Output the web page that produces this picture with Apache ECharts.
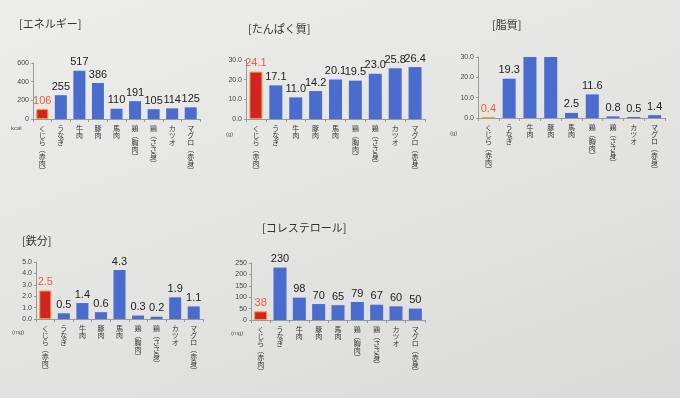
<!DOCTYPE html>
<html>
<head>
<meta charset="utf-8">
<script src="https://cdn.jsdelivr.net/npm/echarts@6/dist/echarts.min.js"></script>
<style>
  html, body { margin: 0; padding: 0; }
  body { background: linear-gradient(160deg, #ededeb 0%, #e4e4e2 50%, #dadad8 100%); }
  #main { width: 680px; height: 398px; }
</style>
</head>
<body>
<div id="main"></div>
<script>
// 食品100gあたりの成分比較
var categories = ['くじら（赤肉）', 'うなぎ', '牛肉', '豚肉', '馬肉', '鶏（胸肉）', '鶏（ささ身）', 'カツオ', 'マグロ（赤身）'];
var energy = [106, 255, 517, 386, 110, 191, 105, 114, 125];
var protein = [24.1, 17.1, 11.0, 14.2, 20.1, 19.5, 23.0, 25.8, 26.4];
// 牛肉・豚肉は目盛りの上限で切れている
var fat = [0.4, 19.3, 30, 30, 2.5, 11.6, 0.8, 0.5, 1.4];
var fatOverflow = [2, 3];
var iron = [2.5, 0.5, 1.4, 0.6, 4.3, 0.3, 0.2, 1.9, 1.1];
var cholesterol = [38, 230, 98, 70, 65, 79, 67, 60, 50];

var titles = ['[エネルギー]', '[たんぱく質]', '[脂質]', '[鉄分]', '[コレステロール]'];
var units = ['kcal', '(g)', '(g)', '(mg)', '(mg)'];

var BLUE = '#4a6ccd';
var RED = '#d42222';
var RED_LABEL = '#e2603e';
var FONT = 'Liberation Sans';
var JP = 'Noto Sans CJK JP';

// 縦書き用の文字列にする
function vertical(s) {
  return s.replace(/（/g, '︵').replace(/）/g, '︶').split('').join('\n');
}

var panels = [
  {data: energy, max: 600, interval: 200, dec: 0, grid: {left: 33, top: 63, width: 167, height: 56}, bw: 12,
   title: [14, 13], unit: [11, 125]},
  {data: protein, max: 30, interval: 10, dec: 1, grid: {left: 246, top: 60, width: 179, height: 59}, bw: 13,
   title: [243, 18], unit: [226, 131]},
  {data: fat, max: 30, interval: 10, dec: 1, grid: {left: 478, top: 57, width: 187, height: 61}, bw: 13,
   title: [487, 14], unit: [450, 130]},
  {data: iron, max: 5, interval: 1, dec: 1, grid: {left: 36, top: 262, width: 167, height: 57}, bw: 12,
   title: [17, 230], unit: [12, 329]},
  {data: cholesterol, max: 250, interval: 50, dec: 0, grid: {left: 251, top: 263, width: 174, height: 57}, bw: 13,
   title: [257, 217], unit: [231, 330]}
];

var grids = [], xAxes = [], yAxes = [], series = [], titleList = [], graphics = [];

panels.forEach(function(p, i) {
  grids.push(p.grid);
  xAxes.push({
    type: 'category', gridIndex: i, data: categories,
    axisLine: {lineStyle: {color: '#9a9a9a', width: 1}},
    axisTick: {show: true, length: 3, lineStyle: {color: '#9a9a9a'}},
    axisLabel: {
      interval: 0, fontSize: 7, lineHeight: 7, color: '#333', margin: 6, fontFamily: JP,
      verticalAlign: 'top',
      formatter: function(v) { return vertical(v); }
    }
  });
  yAxes.push({
    type: 'value', gridIndex: i, min: 0, max: p.max, interval: p.interval,
    axisLine: {show: true, lineStyle: {color: '#9a9a9a', width: 1}},
    axisTick: {show: true, length: 2, lineStyle: {color: '#9a9a9a'}},
    splitLine: {show: false},
    axisLabel: {
      fontSize: 7, color: '#444', margin: 4, fontFamily: FONT,
      formatter: function(v) { return v.toFixed(p.dec); }
    }
  });
  series.push({
    type: 'bar', xAxisIndex: i, yAxisIndex: i, barWidth: p.bw,
    itemStyle: {color: BLUE},
    label: {
      show: true, position: 'top', distance: 3, fontSize: 11, color: '#222', fontFamily: FONT,
      formatter: function(d) { return d.value.toFixed(p.dec); }
    },
    data: p.data.map(function(v, j) {
      var item = {value: v};
      if (j === 0) {
        item.itemStyle = {color: RED, borderColor: '#e8a336', borderWidth: 1};
        item.label = {color: RED_LABEL};
      }
      if (p.data === fat && fatOverflow.indexOf(j) >= 0) {
        item.label = {show: false};
      }
      return item;
    })
  });
  titleList.push({
    text: titles[i], left: p.title[0], top: p.title[1],
    textStyle: {fontSize: 11, fontWeight: 'normal', color: '#333', fontFamily: JP}
  });
  graphics.push({
    type: 'text', left: p.unit[0], top: p.unit[1],
    style: {text: units[i], fontSize: 6, fill: '#555', fontFamily: FONT}
  });
});

var chart = echarts.init(document.getElementById('main'), null, {renderer: 'canvas'});
chart.setOption({
  backgroundColor: 'transparent',
  animation: false,
  title: titleList,
  grid: grids,
  xAxis: xAxes,
  yAxis: yAxes,
  series: series,
  graphic: graphics
});
</script>
</body>
</html>
